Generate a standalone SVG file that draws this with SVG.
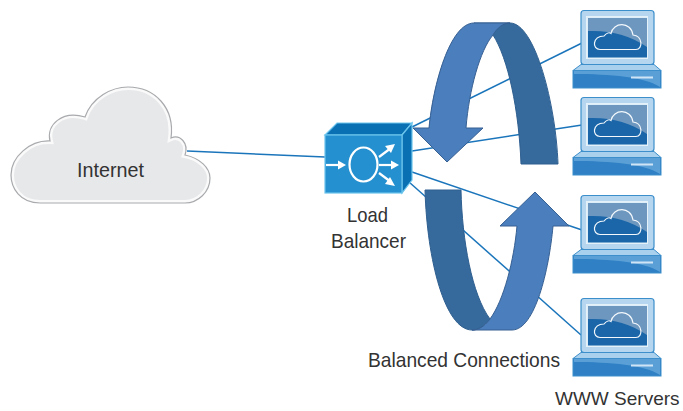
<svg xmlns="http://www.w3.org/2000/svg" width="683" height="411" viewBox="0 0 683 411">
<style>
text{font-family:"Liberation Sans",Arial,sans-serif;font-size:21px;fill:#333;}
.c{stroke:#1b75bb;stroke-width:1.5;fill:none}
.dk{fill:#366a9c;stroke:#2f5f90;stroke-width:1}
.bl{fill:#4a7ebd;stroke:#365f92;stroke-width:1}
</style>
<defs>
<path id="cloud" d="M40 203C20 203 11 188 11 175C11 157 30 140 50 141C46 125 62 110 85 117C92 97 112 87 128 87C155 87 175 108 171 138C180 134 189 143 185 155C200 158 210 168 210 178C210 192 198 203 185 203Z"/>
<clipPath id="cloud-clip"><use href="#cloud"/></clipPath>
<g id="laptop">
<rect x="581" y="10.500" width="73" height="54" rx="3" fill="#b5d6ee" stroke="#3d8fcc" stroke-width="1.200"/>
<rect x="586.500" y="16.500" width="61" height="42" fill="#ddeef8" stroke="#e4f1f9"/>
<rect x="588" y="18" width="59" height="39.500" fill="#1a66a9"/>
<path d="M588 18H647V47C630 35 610 30 588 31Z" fill="#6d97bf"/>
<path d="M600 49.500C592 49.500 592 36.500 604 36C606 33.500 609 32 611 33.500C613 22 631 21 633 35C643 36 643 49.500 636 49.500Z" fill="none" stroke="#f3f8fc" stroke-width="1.200"/>
<path d="M581 64.500H654L661 70.500H573Z" fill="#a9d0ec" stroke="#3d8fcc"/>
<rect x="573" y="70.500" width="88" height="17.500" fill="#2f80c4" stroke="#3d8fcc"/>
<path d="M574 71H660V87C645 77 610 74 574 74Z" fill="#5a9fd6"/>
<rect x="631" y="76.500" width="22" height="2" fill="#cfe5f5"/>
</g>
</defs>
<g id="connectors">
<line class="c" x1="187" y1="151" x2="325" y2="157"/>
<line class="c" x1="412" y1="127" x2="582" y2="43"/>
<line class="c" x1="412" y1="151" x2="582" y2="125"/>
<line class="c" x1="412" y1="172" x2="582" y2="230"/>
<line class="c" x1="409" y1="182" x2="581" y2="335"/>
</g>
<g id="internet">
<use href="#cloud" fill="#e7e8ea"/>
<use href="#cloud" fill="none" stroke="#fafafa" stroke-width="6" clip-path="url(#cloud-clip)"/>
<use href="#cloud" fill="none" stroke="#a8aaad" stroke-width="1.200"/>
<text x="77" y="177" textLength="67" lengthAdjust="spacingAndGlyphs">Internet</text>
</g>
<g id="load-balancer">
<path d="M325 135L337 123H412L402 135Z" fill="#0a70b4" stroke="#6cc5ec" stroke-width="1.200"/>
<path d="M402 135L412 123V180L402 193Z" fill="#0a70b4" stroke="#6cc5ec" stroke-width="1.200"/>
<rect x="325" y="135" width="77" height="58" fill="#2590cf" stroke="#6cc5ec" stroke-width="1.200"/>
<ellipse cx="363.500" cy="164.500" rx="14" ry="17" fill="none" stroke="#fff" stroke-width="2.200"/>
<g stroke="#fff" stroke-width="2.200" fill="none">
<line x1="326" y1="165" x2="340" y2="165"/><line x1="379" y1="165" x2="392" y2="165"/><line x1="379" y1="157" x2="391" y2="148"/><line x1="379" y1="173" x2="391" y2="182"/>
</g>
<g fill="#fff"><path d="M346 165L338 160.500V169.500Z"/><path d="M399 165L391 160.500V169.500Z"/><path d="M395 144L385 146L391 153Z"/><path d="M395 186L390 177L385 184Z"/></g>
<text x="347" y="222" textLength="41" lengthAdjust="spacingAndGlyphs">Load</text>
<text x="331" y="248" textLength="75" lengthAdjust="spacingAndGlyphs">Balancer</text>
</g>
<g id="arrow-top">
<path class="dk" d="M493 35C508 58 519 110 521 164H558C556 105 535 23 510 23H474Z"/>
<path class="bl" d="M429 128C433 85 450 23 474 23H510C503 23 497 28 493 35C480 50 469 90 466 128H483L447 162L413 128Z"/>
</g>
<g id="arrow-bottom">
<path class="dk" d="M425 190H461C462 240 472 295 490 319C484 327 478 330 472 330C445 330 427 260 425 190Z"/>
<path class="bl" d="M472 330H512C535 330 549 270 553 226H569L535 192L500 226H517C514 260 504 300 490 319C484 327 478 330 472 330Z"/>
</g>
<g id="server-1"><use href="#laptop"/></g>
<g id="server-2"><use href="#laptop" y="87"/></g>
<g id="server-3"><use href="#laptop" y="185"/></g>
<g id="server-4"><use href="#laptop" y="288"/></g>
<text id="balanced-connections" x="368" y="367" textLength="192" lengthAdjust="spacingAndGlyphs">Balanced Connections</text>
<text id="www-servers" x="555" y="405" style="font-size:19px">WWW Servers</text>
</svg>
